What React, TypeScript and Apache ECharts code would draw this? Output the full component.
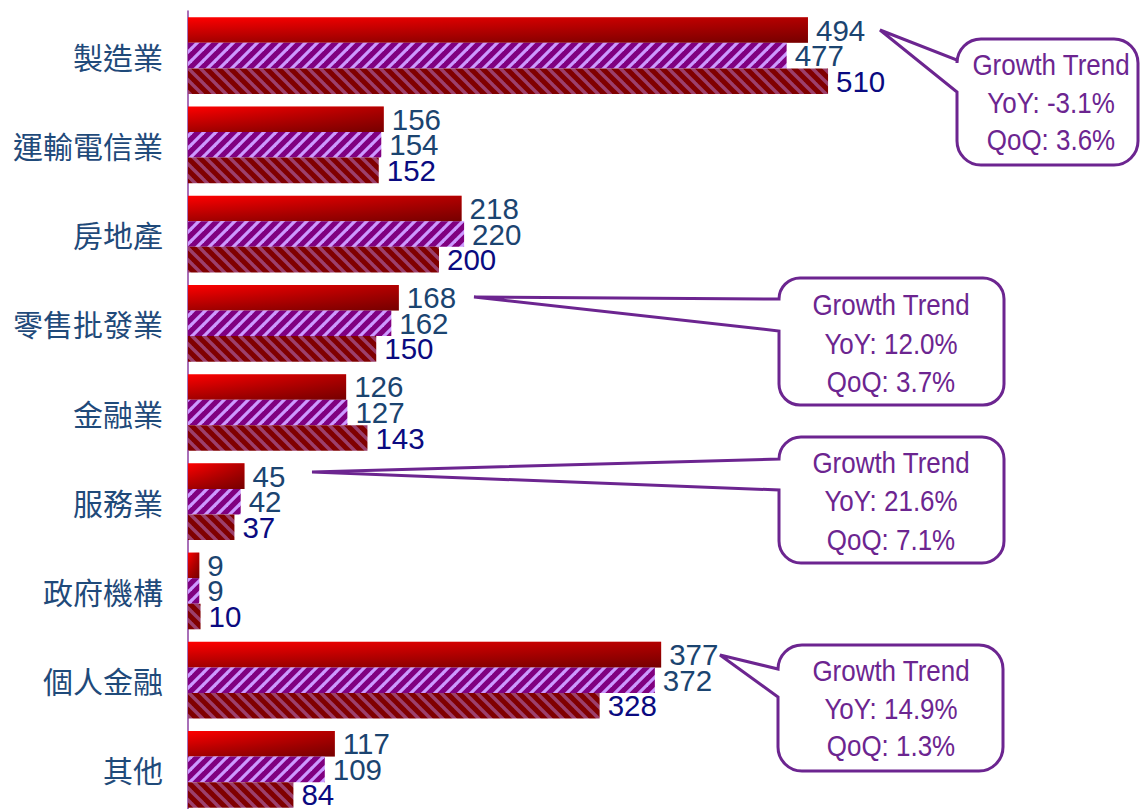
import React, { useEffect, useRef } from 'react';
import * as echarts from 'echarts';

// ---------------- data ----------------
const categories = ['製造業', '運輸電信業', '房地產', '零售批發業', '金融業', '服務業', '政府機構', '個人金融', '其他'];
const currentQuarter = [494, 156, 218, 168, 126, 45, 9, 377, 117];
const previousQuarter = [477, 154, 220, 162, 127, 42, 9, 372, 109];
const sameQuarterLastYear = [510, 152, 200, 150, 143, 37, 10, 328, 84];
const seriesNames = ['本季', '上季', '去年同期'];
const calloutCategories = ['製造業', '零售批發業', '服務業', '個人金融'];
const calloutTitle = 'Growth Trend';

// ---------------- layout of the callout bubbles (annotation geometry) ----------------
const calloutLayout = [
  { box: [957, 39, 1138, 165], r: 24, tip: [880, 30], tail: [60, 92], cx: 1051, ys: [65, 103, 140] },
  { box: [779, 278, 1004, 405], r: 21, tip: [474, 297], tail: [299, 331], cx: 891, ys: [305, 344, 382] },
  { box: [779, 437, 1004, 563], r: 22, tip: [312, 472], tail: [459, 490], cx: 891, ys: [463, 501, 540] },
  { box: [778, 645, 1003, 771], r: 24, tip: [720, 655], tail: [669, 697], cx: 891, ys: [671, 709, 746] },
];

const PURPLE = '#6C2590';
const LABEL_BLUE = '#1B4470';
const LABEL_NAVY = '#0A0A80';
const LATIN = '"Liberation Sans", Arial, sans-serif';

function pct(a: number, b: number) {
  return ((a / b - 1) * 100).toFixed(1) + '%';
}

function bubblePath(c: any) {
  const [x0, y0, x1, y1] = c.box;
  const r = c.r;
  const [tx, ty] = c.tip;
  const [ta, tb] = c.tail;
  return [
    `M${x0 + r} ${y0}`,
    `H${x1 - r}`,
    `A${r} ${r} 0 0 1 ${x1} ${y0 + r}`,
    `V${y1 - r}`,
    `A${r} ${r} 0 0 1 ${x1 - r} ${y1}`,
    `H${x0 + r}`,
    `A${r} ${r} 0 0 1 ${x0} ${y1 - r}`,
    `V${tb}`,
    `L${tx} ${ty}`,
    `L${x0} ${ta}`,
    `V${y0 + r}`,
    `A${r} ${r} 0 0 1 ${x0 + r} ${y0}`,
    'Z',
  ].join(' ');
}

function makeStripe(bg: string, fg: string, dir: 'up' | 'down', size: number, lw: number) {
  const cv = document.createElement('canvas');
  cv.width = size;
  cv.height = size;
  const ctx = cv.getContext('2d')!;
  ctx.fillStyle = bg;
  ctx.fillRect(0, 0, size, size);
  ctx.strokeStyle = fg;
  ctx.lineWidth = lw;
  for (let k = -1; k <= 1; k++) {
    ctx.beginPath();
    if (dir === 'up') {
      ctx.moveTo(k * size - 1, size + 1);
      ctx.lineTo(k * size + size + 1, -1);
    } else {
      ctx.moveTo(k * size - 1, -1);
      ctx.lineTo(k * size + size + 1, size + 1);
    }
    ctx.stroke();
  }
  return cv.toDataURL();
}

export default function App() {
  const ref = useRef<HTMLDivElement>(null);

  useEffect(() => {
    if (!ref.current) return;

    calloutLayout.forEach((c, i) => {
      echarts.graphic.registerShape('bubble' + i, echarts.graphic.extendPath(bubblePath(c), {}));
    });

    const P = 12;
    const purplePattern = {
      image: makeStripe('#800080', '#CC99FF', 'up', P, 3.2),
      repeat: 'repeat',
      imageWidth: P,
      imageHeight: P,
    };
    const redPattern = {
      image: makeStripe('#800000', '#9C3F6C', 'down', P, 3.4),
      repeat: 'repeat',
      imageWidth: P,
      imageHeight: P,
    };

    const chart = echarts.init(ref.current, null, { renderer: 'svg' });

    const graphics: any[] = [];
    calloutLayout.forEach((c, i) => {
      const idx = categories.indexOf(calloutCategories[i]);
      const lines = [
        calloutTitle,
        'YoY: ' + pct(currentQuarter[idx], sameQuarterLastYear[idx]),
        'QoQ: ' + pct(currentQuarter[idx], previousQuarter[idx]),
      ];
      graphics.push({
        type: 'bubble' + i,
        x: 0,
        y: 0,
        z: 100,
        style: { fill: '#ffffff', stroke: PURPLE, lineWidth: 3, lineJoin: 'miter' },
      });
      lines.forEach((t, j) => {
        graphics.push({
          type: 'text',
          x: c.cx,
          y: c.ys[j],
          scaleX: 0.88,
          z: 101,
          style: {
            text: t,
            fill: PURPLE,
            fontSize: 29.5,
            fontFamily: LATIN,
            align: 'center',
            verticalAlign: 'middle',
          },
        });
      });
    });

    const common = {
      type: 'bar',
      barGap: '0%',
      barCategoryGap: '14%',
    };
    const valueLabel = (color: string) => ({
      show: true,
      position: 'right',
      distance: 8,
      color,
      fontSize: 29.5,
      fontFamily: LATIN,
    });

    chart.setOption({
      animation: false,
      backgroundColor: '#ffffff',
      grid: { left: 188, top: 11, width: 753, height: 803, containLabel: false },
      xAxis: { type: 'value', min: 0, max: 600, show: false },
      yAxis: [
        {
          type: 'category',
          data: categories,
          inverse: true,
          axisLine: { show: true, lineStyle: { color: '#8B3FA0', width: 1.5 } },
          axisTick: { show: false },
          axisLabel: {
            margin: 25,
            fontSize: 30,
            color: '#1F4A7A',
            fontFamily: '"Noto Sans CJK TC", "Noto Sans CJK SC", sans-serif',
          },
        },
        {
          type: 'category',
          data: categories,
          inverse: true,
          show: false,
        },
      ],
      series: [
        {
          ...common,
          name: seriesNames[0],
          yAxisIndex: 0,
          data: currentQuarter,
          itemStyle: {
            color: {
              type: 'linear', x: 0, y: 0, x2: 0, y2: 1,
              colorStops: [
                { offset: 0, color: '#FF0000' },
                { offset: 1, color: '#A20000' },
              ],
            },
          },
          label: valueLabel(LABEL_BLUE),
        },
        {
          ...common,
          name: seriesNames[1],
          yAxisIndex: 0,
          data: previousQuarter,
          itemStyle: { color: purplePattern },
          label: valueLabel(LABEL_BLUE),
        },
        {
          ...common,
          name: seriesNames[2],
          yAxisIndex: 0,
          data: sameQuarterLastYear,
          itemStyle: { color: redPattern },
          label: valueLabel(LABEL_NAVY),
        },
        // shading overlay on the first series (horizontal darkening of the gradient)
        {
          ...common,
          name: 'shade',
          yAxisIndex: 1,
          silent: true,
          z: 3,
          data: currentQuarter,
          itemStyle: {
            color: {
              type: 'linear', x: 0, y: 0, x2: 1, y2: 0,
              colorStops: [
                { offset: 0, color: 'rgba(40,0,0,0)' },
                { offset: 1, color: 'rgba(40,0,0,0.36)' },
              ],
            },
          },
          label: { show: false },
        },
        {
          ...common,
          name: 'slot2',
          yAxisIndex: 1,
          silent: true,
          data: categories.map(() => 0),
          itemStyle: { color: 'rgba(0,0,0,0)' },
        },
        {
          ...common,
          name: 'slot3',
          yAxisIndex: 1,
          silent: true,
          data: categories.map(() => 0),
          itemStyle: { color: 'rgba(0,0,0,0)' },
        },
      ],
      graphic: graphics,
    });

    return () => {
      chart.dispose();
    };
  }, []);

  return (
    <div
      ref={ref}
      style={{ position: 'fixed', left: 0, top: 0, width: 1142, height: 830, background: '#fff' }}
    />
  );
}
